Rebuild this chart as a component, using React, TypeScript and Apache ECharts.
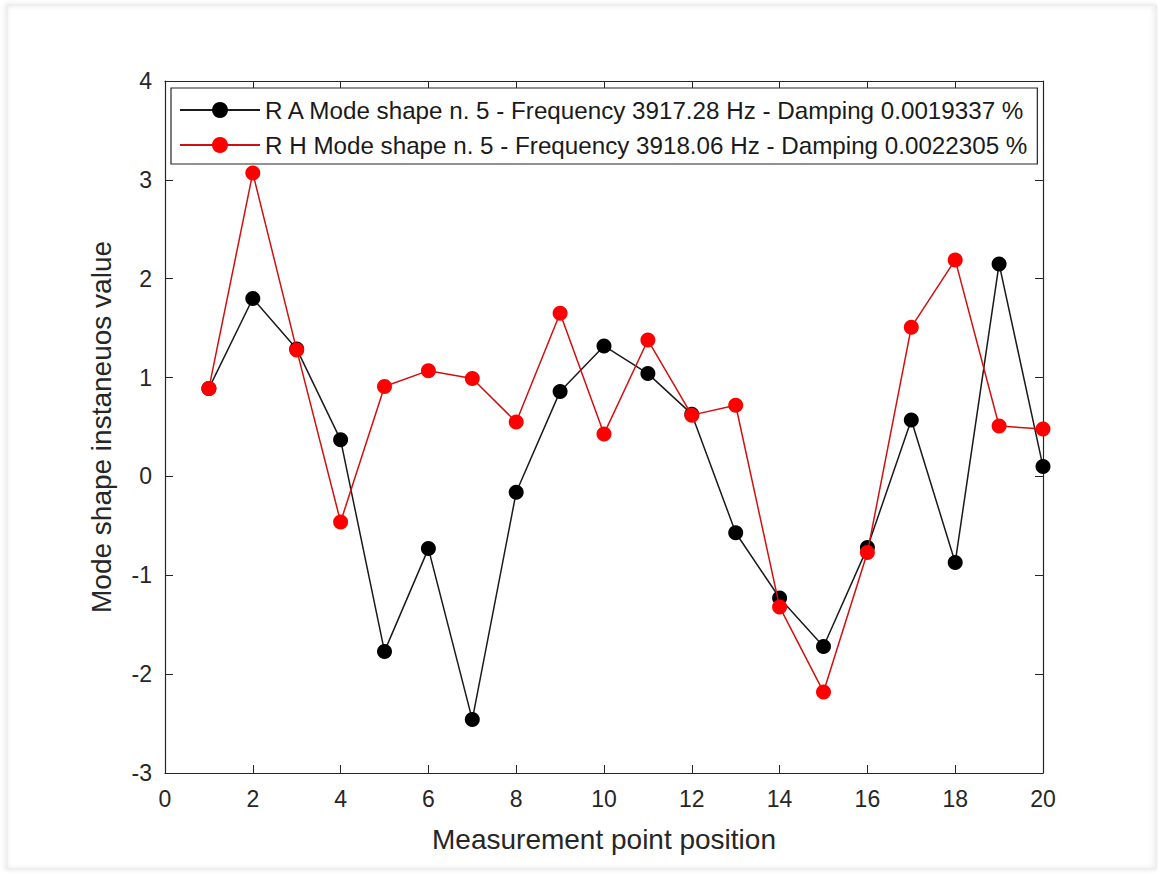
import React, { useEffect, useRef } from "react";
import * as echarts from "echarts";

const positions = [1, 2, 3, 4, 5, 6, 7, 8, 9, 10, 11, 12, 13, 14, 15, 16, 17, 18, 19, 20];
const seriesANames = "R A Mode shape n. 5 - Frequency 3917.28 Hz - Damping 0.0019337 %";
const seriesHNames = "R H Mode shape n. 5 - Frequency 3918.06 Hz - Damping 0.0022305 %";
const valuesA = [0.89, 1.8, 1.29, 0.37, -1.77, -0.73, -2.46, -0.16, 0.86, 1.32, 1.04, 0.63, -0.57, -1.23, -1.72, -0.72, 0.57, -0.87, 2.15, 0.1];
const valuesH = [0.89, 3.07, 1.28, -0.46, 0.91, 1.07, 0.99, 0.55, 1.65, 0.43, 1.38, 0.62, 0.72, -1.32, -2.18, -0.77, 1.51, 2.19, 0.51, 0.48];
const xTitle = "Measurement point position";
const yTitle = "Mode shape instaneuos value";

const FONT = "'Liberation Sans', Arial, Helvetica, sans-serif";
const AXIS_COLOR = "#262626";

export default function App() {
  const ref = useRef<HTMLDivElement>(null);
  useEffect(() => {
    if (!ref.current) return;
    const chart = echarts.init(ref.current, undefined, { renderer: "svg" });
    const mk = (vals: number[]) => positions.map((p, i) => [p, vals[i]]);
    const hiddenAxis = {
      axisLine: { show: true, onZero: false, lineStyle: { color: AXIS_COLOR, width: 1.2 } },
      axisTick: { show: true, inside: true, length: 8, lineStyle: { color: AXIS_COLOR } },
      axisLabel: { show: false },
      splitLine: { show: false },
    };
    chart.setOption({
      animation: false,
      backgroundColor: "#ffffff",
      textStyle: { fontFamily: FONT },
      graphic: [
        {
          type: "rect",
          shape: { x: 7, y: 5, width: 1149, height: 864 },
          style: { fill: "none", stroke: "#e4e4e4", lineWidth: 1, shadowBlur: 4, shadowColor: "rgba(0,0,0,0.25)", shadowOffsetX: -1 },
          silent: true,
          z: -10,
        },
      ],
      grid: { left: 165, right: 115, top: 81, bottom: 101, containLabel: false },
      legend: {
        orient: "vertical",
        left: 171,
        top: 88,
        padding: [10, 10, 7, 8],
        itemGap: 11,
        itemWidth: 80,
        itemHeight: 20,
        backgroundColor: "#ffffff",
        borderColor: AXIS_COLOR,
        borderWidth: 1.2,
        textStyle: { fontSize: 24.2, color: "#1a1a1a", fontFamily: FONT, padding: [0, 0, 0, 0] },
        data: [seriesANames, seriesHNames],
      },
      xAxis: [
        {
          type: "value",
          min: 0,
          max: 20,
          interval: 2,
          name: xTitle,
          nameLocation: "middle",
          nameGap: 52,
          nameTextStyle: { fontSize: 28, color: "#262626", fontFamily: FONT },
          axisLine: { show: true, onZero: false, lineStyle: { color: AXIS_COLOR, width: 1.2 } },
          axisTick: { show: true, inside: true, length: 8, lineStyle: { color: AXIS_COLOR } },
          axisLabel: { fontSize: 23, color: "#262626", margin: 14, fontFamily: FONT },
          splitLine: { show: false },
        },
        { type: "value", position: "top", min: 0, max: 20, interval: 2, ...hiddenAxis },
      ],
      yAxis: [
        {
          type: "value",
          min: -3,
          max: 4,
          interval: 1,
          name: yTitle,
          nameLocation: "middle",
          nameGap: 50,
          nameTextStyle: { fontSize: 28, color: "#262626", fontFamily: FONT },
          axisLine: { show: true, onZero: false, lineStyle: { color: AXIS_COLOR, width: 1.2 } },
          axisTick: { show: true, inside: true, length: 8, lineStyle: { color: AXIS_COLOR } },
          axisLabel: { fontSize: 23, color: "#262626", margin: 13, fontFamily: FONT },
          splitLine: { show: false },
        },
        { type: "value", position: "right", min: -3, max: 4, interval: 1, ...hiddenAxis },
      ],
      series: [
        {
          name: seriesANames,
          type: "line",
          data: mk(valuesA),
          symbol: "circle",
          symbolSize: 15,
          lineStyle: { color: "#1a1a1a", width: 1.5 },
          itemStyle: { color: "#000000" },
          z: 2,
        },
        {
          name: seriesHNames,
          type: "line",
          data: mk(valuesH),
          symbol: "circle",
          symbolSize: 15,
          lineStyle: { color: "#d01010", width: 1.5 },
          itemStyle: { color: "#ff0000" },
          z: 3,
        },
      ],
    });
    return () => chart.dispose();
  }, []);
  return (
    <div style={{ position: "fixed", left: 0, top: 0, width: 1158, height: 874, background: "#f4f4f4" }}>
      <div ref={ref} style={{ width: 1158, height: 874 }} />
    </div>
  );
}
